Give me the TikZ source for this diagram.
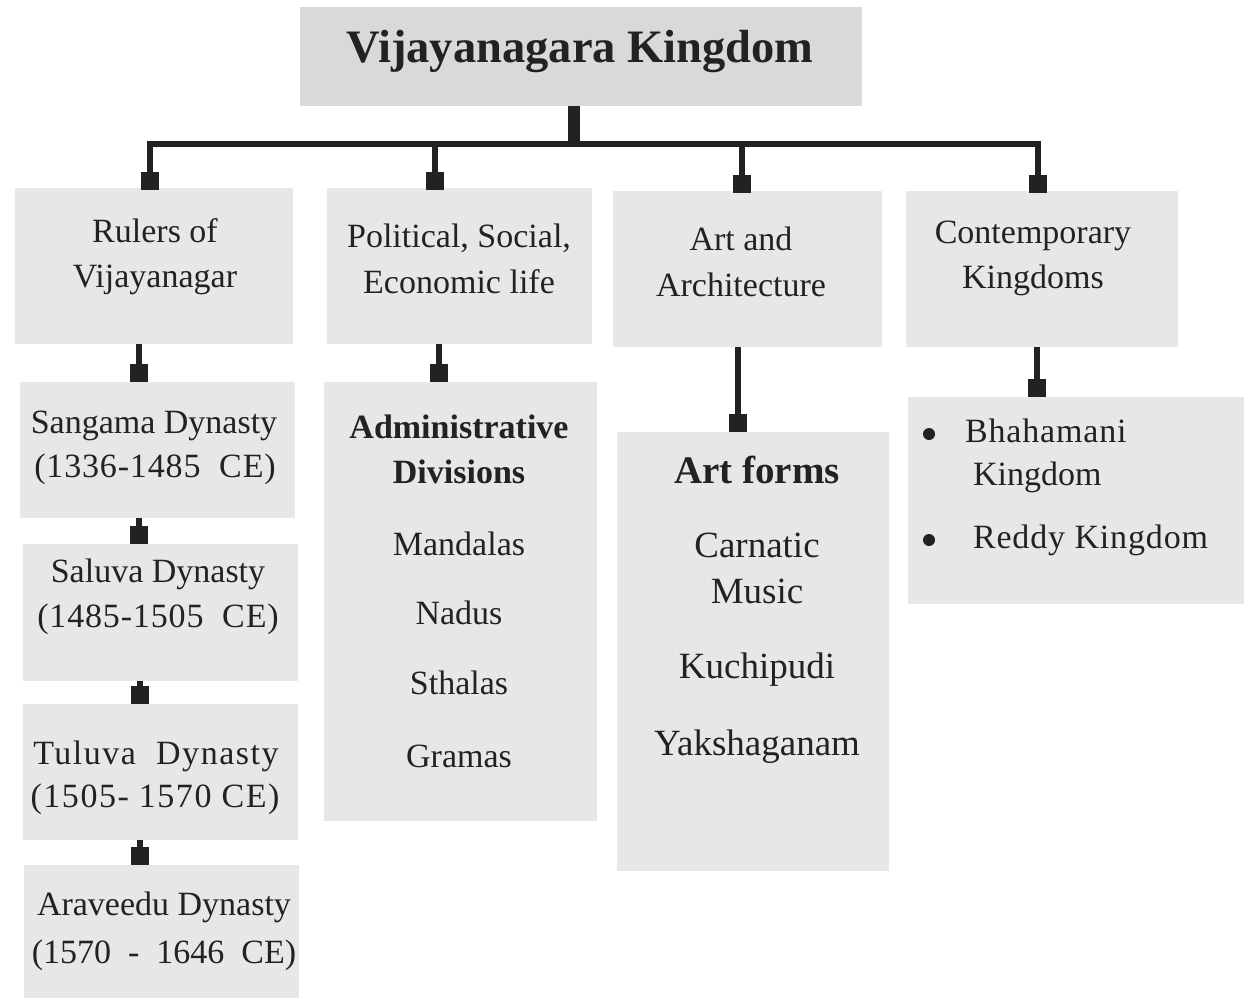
\documentclass[tikz,border=0pt]{standalone}
\usepackage{fontspec}
\setmainfont{Liberation Serif}
\usetikzlibrary{arrows.meta}
\definecolor{titlefill}{HTML}{D9D9D9}
\definecolor{boxfill}{HTML}{E7E7E7}
\definecolor{ink}{HTML}{222222}
\definecolor{linecol}{HTML}{222222}
\tikzset{
  box/.style={fill=boxfill, draw=none, inner sep=0pt, outer sep=0pt, anchor=north west},
  titlebox/.style={box, fill=titlefill},
  txt/.style={inner sep=0pt, outer sep=0pt, text=ink, font=\fontsize{34}{40}\selectfont, anchor=base},
  wtxt/.style={txt, font=\fontsize{34}{40}\selectfont\addfontfeature{LetterSpace=4.5}},
  mtxt/.style={txt, font=\fontsize{34}{40}\selectfont\addfontfeature{LetterSpace=2.5}},
  atxt/.style={txt, font=\fontsize{37}{44}\selectfont},
  btxt/.style={txt, font=\fontsize{34}{40}\selectfont\bfseries},
  abtxt/.style={txt, font=\fontsize{39}{46}\selectfont\bfseries},
  ttxt/.style={txt, font=\fontsize{46.5}{54}\selectfont\bfseries},
  dot/.style={circle, fill=ink, draw=none, inner sep=0pt, minimum size=12pt},
  conn/.style={draw=linecol, line width=6pt, -{Square[length=18pt,width=18pt]}},
  bus/.style={draw=linecol, line width=5.5pt, line join=miter, {Square[length=18pt,width=18pt]}-{Square[length=18pt,width=18pt]}},
  hubbar/.style={draw=linecol, line width=12pt}
}
\begin{document}
\begin{tikzpicture}[x=1pt,y=-1pt]
\useasboundingbox (0,0) rectangle (1244,998);
% boxes
\node[titlebox, minimum width=562pt, minimum height=99pt] (title) at (300,7) {};
\node[box, minimum width=278pt, minimum height=156pt] (rulers) at (15,188) {};
\node[box, minimum width=265pt, minimum height=156pt] (political) at (327,188) {};
\node[box, minimum width=269pt, minimum height=156pt] (artarch) at (613,191) {};
\node[box, minimum width=272pt, minimum height=156pt] (contemp) at (906,191) {};
\node[box, minimum width=275pt, minimum height=136pt] (sangama) at (20,382) {};
\node[box, minimum width=275pt, minimum height=137pt] (saluva) at (23,544) {};
\node[box, minimum width=275pt, minimum height=136pt] (tuluva) at (23,704) {};
\node[box, minimum width=275pt, minimum height=133pt] (araveedu) at (24,865) {};
\node[box, minimum width=273pt, minimum height=439pt] (admin) at (324,382) {};
\node[box, minimum width=272pt, minimum height=439pt] (artforms) at (617,432) {};
\node[box, minimum width=336pt, minimum height=207pt] (kingdoms) at (908,397) {};
% connector coordinates
\coordinate (hub) at (574,144);
\coordinate (d1) at (150,144);
\coordinate (d2) at (435,144);
\coordinate (d3) at (742,144);
\coordinate (d4) at (1038,144);
\coordinate (c1) at (139,0);
\coordinate (c1b) at (140,0);
\coordinate (c2) at (439,0);
\coordinate (c3) at (738,0);
\coordinate (c4) at (1037,0);
% connectors
\draw[hubbar] (title.south -| hub) -- ([yshift=-2pt]hub);
\draw[bus] ([yshift=-2pt]d1 |- rulers.north) -- (d1) -- (d4) -- ([yshift=-2pt]d4 |- contemp.north);
\draw[conn] (d2) -- ([yshift=-2pt]d2 |- political.north);
\draw[conn] (d3) -- ([yshift=-2pt]d3 |- artarch.north);
\draw[conn] (c1 |- rulers.south) -- (c1 |- sangama.north);
\draw[conn] (c2 |- political.south) -- (c2 |- admin.north);
\draw[conn] (c3 |- artarch.south) -- (c3 |- artforms.north);
\draw[conn] (c4 |- contemp.south) -- (c4 |- kingdoms.north);
\draw[conn] (c1 |- sangama.south) -- (c1 |- saluva.north);
\draw[conn] (c1b |- saluva.south) -- (c1b |- tuluva.north);
\draw[conn] (c1b |- tuluva.south) -- (c1b |- araveedu.north);
% texts
\node[ttxt] (tt) at (580,63) {Vijayanagara Kingdom};
\node[txt] (r1) at (155,242) {Rulers of};
\node[txt] (r2) at (155,287) {Vijayanagar};
\node[txt] (p1) at (459,247) {Political, Social,};
\node[txt] (p2) at (459,293) {Economic life};
\node[txt] (a1) at (741,250) {Art and};
\node[txt] (a2) at (741,296) {Architecture};
\node[txt] (k1) at (1033,243) {Contemporary};
\node[txt] (k2) at (1033,288) {Kingdoms};
\node[txt] (s1) at (154,433) {Sangama Dynasty};
\node[mtxt] (s2) at (155,477) {(1336-1485\ \ CE)};
\node[txt] (l1) at (158,582) {Saluva Dynasty};
\node[mtxt] (l2) at (158,627) {(1485-1505\ \ CE)};
\node[wtxt] (u1) at (156,764) {Tuluva\ \ Dynasty};
\node[wtxt] (u2) at (155,807) {(1505- 1570 CE)};
\node[txt] (v1) at (164,915) {Araveedu Dynasty};
\node[txt] (v2) at (164,963) {(1570\ \ -\ \ 1646\ \ CE)};
\node[btxt] (m1) at (459,438) {Administrative};
\node[btxt] (m2) at (459,483) {Divisions};
\node[txt] (m3) at (459,555) {Mandalas};
\node[txt] (m4) at (459,624) {Nadus};
\node[txt] (m5) at (459,694) {Sthalas};
\node[txt] (m6) at (459,767) {Gramas};
\node[abtxt] (f1) at (757,483) {Art forms};
\node[atxt] (f2) at (757,557) {Carnatic};
\node[atxt] (f3) at (757,603) {Music};
\node[atxt] (f4) at (757,678) {Kuchipudi};
\node[atxt] (f5) at (757,755) {Yakshaganam};
\node[dot] (b1) at (929,434) {};
\node[mtxt, anchor=base west] (b1t) at (965,442) {Bhahamani};
\node[txt, anchor=base west] (b1u) at (973,485) {Kingdom};
\node[dot] (b2) at (929,540) {};
\node[mtxt, anchor=base west] (b2t) at (973,548) {Reddy Kingdom};
\end{tikzpicture}
\end{document}
